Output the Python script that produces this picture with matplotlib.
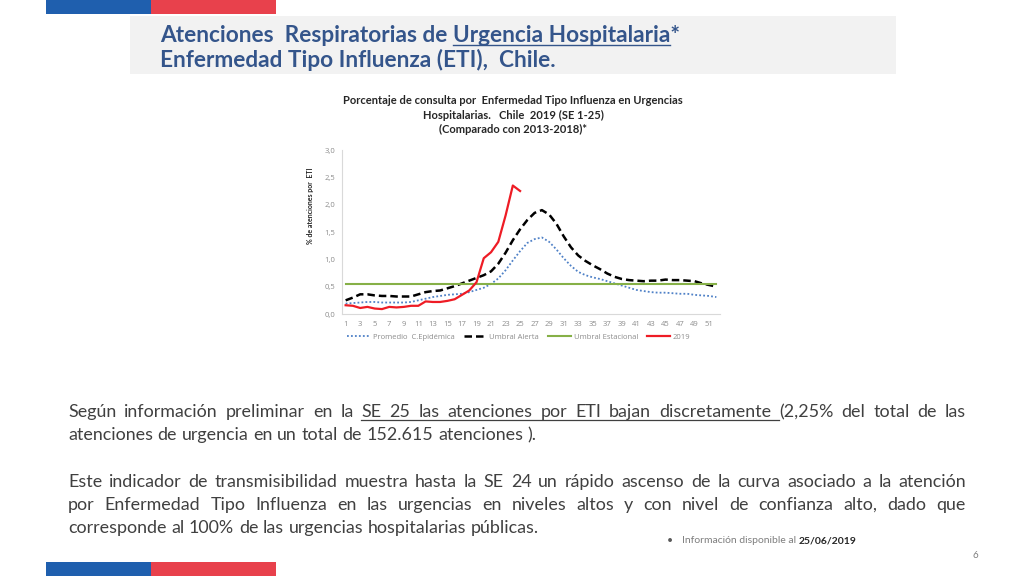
import matplotlib
matplotlib.use('Agg')
import matplotlib.pyplot as plt
from matplotlib.patches import Rectangle
from matplotlib.lines import Line2D

W, H = 1024, 576

weeks = list(range(1, 53))
weeks_2019 = list(range(1, 26))

promedio = [0.19, 0.20, 0.21, 0.22, 0.22, 0.21, 0.21, 0.21, 0.21, 0.22,
            0.25, 0.28, 0.31, 0.33, 0.35, 0.36, 0.37, 0.40, 0.44, 0.48,
            0.55, 0.65, 0.80, 0.98, 1.15, 1.30, 1.37, 1.40, 1.32, 1.18,
            1.02, 0.88, 0.77, 0.71, 0.67, 0.64, 0.60, 0.56, 0.52, 0.48,
            0.44, 0.42, 0.40, 0.39, 0.39, 0.38, 0.37, 0.37, 0.35, 0.34,
            0.33, 0.31]
umbral_alerta = [0.25, 0.30, 0.36, 0.36, 0.34, 0.33, 0.33, 0.32, 0.32, 0.32,
                 0.36, 0.40, 0.42, 0.43, 0.47, 0.51, 0.56, 0.61, 0.66, 0.71,
                 0.78, 0.92, 1.12, 1.35, 1.55, 1.72, 1.85, 1.90, 1.82, 1.65,
                 1.42, 1.22, 1.07, 0.97, 0.89, 0.82, 0.74, 0.68, 0.64, 0.62,
                 0.61, 0.60, 0.61, 0.61, 0.63, 0.62, 0.62, 0.61, 0.60, 0.56,
                 0.53, 0.50]
umbral_estacional = [0.55] * 52
eti_2019 = [0.16, 0.15, 0.11, 0.13, 0.10, 0.09, 0.13, 0.12, 0.13, 0.15,
            0.15, 0.23, 0.22, 0.22, 0.24, 0.27, 0.35, 0.43, 0.58, 1.02,
            1.13, 1.32, 1.80, 2.35, 2.25]

yticks = [0, 0.5, 1.0, 1.5, 2.0, 2.5, 3.0]
ytick_labels = ['0,0', '0,5', '1,0', '1,5', '2,0', '2,5', '3,0']

FONT = 'Lato'
SMALL_FONT = 'Open Sans'
TEXT_GRAY = '#404040'
TITLE_BLUE = '#34558B'
BLUE_BAR = '#1F5FAE'
RED_BAR = '#E8414C'

fig = plt.figure(figsize=(W / 100, H / 100), dpi=100)
renderer = fig.canvas.get_renderer()


def fx(x):
    return x / W


def fy(y):
    return 1 - y / H


def tw(s, **kw):
    t = fig.text(0, 0, s, **kw)
    w = t.get_window_extent(renderer).width
    t.remove()
    return w


def underline(x0, x1, y, color, lw=0.9, off=3):
    fig.add_artist(Line2D([fx(x0), fx(x1)], [fy(y + off), fy(y + off)],
                          color=color, lw=lw, transform=fig.transFigure))


def draw_line(x, y, words, width=None, ul=None, **kw):
    # words placed one by one; justified when width is given
    ws = [tw(w, **kw) for w in words]
    if width is None:
        gap = tw('a a', **kw) - tw('aa', **kw)
    else:
        gap = (width - sum(ws)) / (len(words) - 1)
    xs = []
    cx = x
    for w, wd in zip(words, ws):
        xs.append(cx)
        fig.text(fx(cx), fy(y), w, ha='left', va='baseline', **kw)
        cx += wd + gap
    if ul is not None:
        i0, i1 = ul
        underline(xs[i0], xs[i1], y, kw.get('color', 'k'))


# slide decoration
for x0, x1, c in [(46, 151, BLUE_BAR), (151, 276, RED_BAR)]:
    fig.add_artist(Rectangle((fx(x0), fy(14)), fx(x1 - x0), 14 / H,
                             color=c, transform=fig.transFigure, lw=0))
    fig.add_artist(Rectangle((fx(x0), fy(576)), fx(x1 - x0), 14 / H,
                             color=c, transform=fig.transFigure, lw=0))
fig.add_artist(Rectangle((fx(130), fy(74)), fx(896 - 130), 58 / H,
                         color='#F2F2F2', transform=fig.transFigure, lw=0))

# slide title
tkw = dict(fontsize=16.3, fontweight='bold', color=TITLE_BLUE, family=FONT)
p1 = 'Atenciones  Respiratorias de '
p2 = 'Urgencia Hospitalaria'
x_u = 160 + tw(p1 + 'X', **tkw) - tw('X', **tkw)
fig.text(fx(160), fy(42), p1, ha='left', va='baseline', **tkw)
fig.text(fx(x_u), fy(42), p2 + '*', ha='left', va='baseline', **tkw)
underline(x_u, x_u + tw(p2, **tkw), 42, TITLE_BLUE, lw=1.0, off=3)
fig.text(fx(160), fy(67), 'Enfermedad Tipo Influenza (ETI),  Chile.',
         ha='left', va='baseline', **tkw)

# chart
ax = fig.add_axes([fx(342), fy(314), fx(720 - 342), 164 / H])
ax.plot(weeks, promedio, color='#4F81C7', ls=(0, (1, 1.2)), lw=1.3)
ax.plot(weeks, umbral_alerta, color='black', ls=(0, (3, 1.6)), lw=1.8)
ax.plot(weeks, umbral_estacional, color='#86B047', lw=1.5)
ax.plot(weeks_2019, eti_2019, color='#EE1C25', lw=1.6)
ax.set_xlim(0.5, 52.5)
ax.set_ylim(0, 3)
ax.set_yticks(yticks)
ax.set_yticklabels(ytick_labels)
ax.set_xticks(weeks[::2])
ax.tick_params(length=0, labelsize=5.5, labelcolor='#8C8C8C', pad=5)
for lab in ax.get_xticklabels() + ax.get_yticklabels():
    lab.set_family(SMALL_FONT)
for s in ['top', 'right']:
    ax.spines[s].set_visible(False)
for s in ['left', 'bottom']:
    ax.spines[s].set_color('#D9D9D9')
    ax.spines[s].set_linewidth(0.8)

handles = [Line2D([], [], color='#4F81C7', ls=(0, (1, 1.2)), lw=1.3),
           Line2D([], [], color='black', ls=(0, (3, 1.6)), lw=1.8),
           Line2D([], [], color='#86B047', lw=1.5),
           Line2D([], [], color='#EE1C25', lw=1.6)]
labels = ['Promedio  C.Epidémica', 'Umbral Alerta', 'Umbral Estacional', '2019']
fig.legend(handles, labels, loc='center', bbox_to_anchor=(fx(519), fy(337)),
           ncol=4, frameon=False, handlelength=3.0, columnspacing=1.2,
           handletextpad=0.35, prop={'family': SMALL_FONT, 'size': 5.5},
           labelcolor='#8C8C8C')

ckw = dict(fontsize=8, fontweight='bold', color='#262626', family=FONT,
           ha='center', va='center')
fig.text(fx(513), fy(101), 'Porcentaje de consulta por  Enfermedad Tipo Influenza en Urgencias', **ckw)
fig.text(fx(513), fy(115), 'Hospitalarias.   Chile  2019 (SE 1-25)', **ckw)
fig.text(fx(513), fy(129), '(Comparado con 2013-2018)*', **ckw)
fig.text(fx(311), fy(206), '% de atenciones por  ETI', rotation=90, fontsize=5,
         fontweight='bold', color='#262626', family=FONT, ha='center', va='center')

# body text
bkw = dict(fontsize=12.9, color=TEXT_GRAY, family=FONT)
L, R = 68, 966
line1 = 'Según información preliminar en la SE 25 las atenciones por ETI bajan discretamente (2,25% del total de las'.split(' ')
draw_line(L, 417, line1, width=R - L, ul=(5, 13), **bkw)
draw_line(L, 440, 'atenciones de urgencia en un total de 152.615 atenciones ).'.split(' '), **bkw)
draw_line(L, 487, 'Este indicador de transmisibilidad muestra hasta la SE 24 un rápido ascenso de la curva asociado a la atención'.split(' '),
          width=R - L, **bkw)
draw_line(L, 510, 'por Enfermedad Tipo Influenza en las urgencias en niveles altos y con nivel de confianza alto, dado que'.split(' '),
          width=R - L, **bkw)
draw_line(L, 533, 'corresponde al 100% de las urgencias hospitalarias públicas.'.split(' '), **bkw)

# footer
fkw = dict(fontsize=7.5, family=FONT, va='baseline', ha='left')
fig.text(fx(667), fy(543), '•', color='#595959', **fkw)
pre = 'Información disponible al '
fig.text(fx(682), fy(543), pre, color='#7F7F7F', **fkw)
fig.text(fx(682 + tw(pre + 'X', **fkw) - tw('X', **fkw)), fy(543), '25/06/2019',
         color='#262626', fontweight='bold', **fkw)
fig.text(fx(975), fy(558), '6', color='#7F7F7F', fontsize=7, family=FONT,
         ha='center', va='baseline')

fig.savefig('out.png', dpi=100)
